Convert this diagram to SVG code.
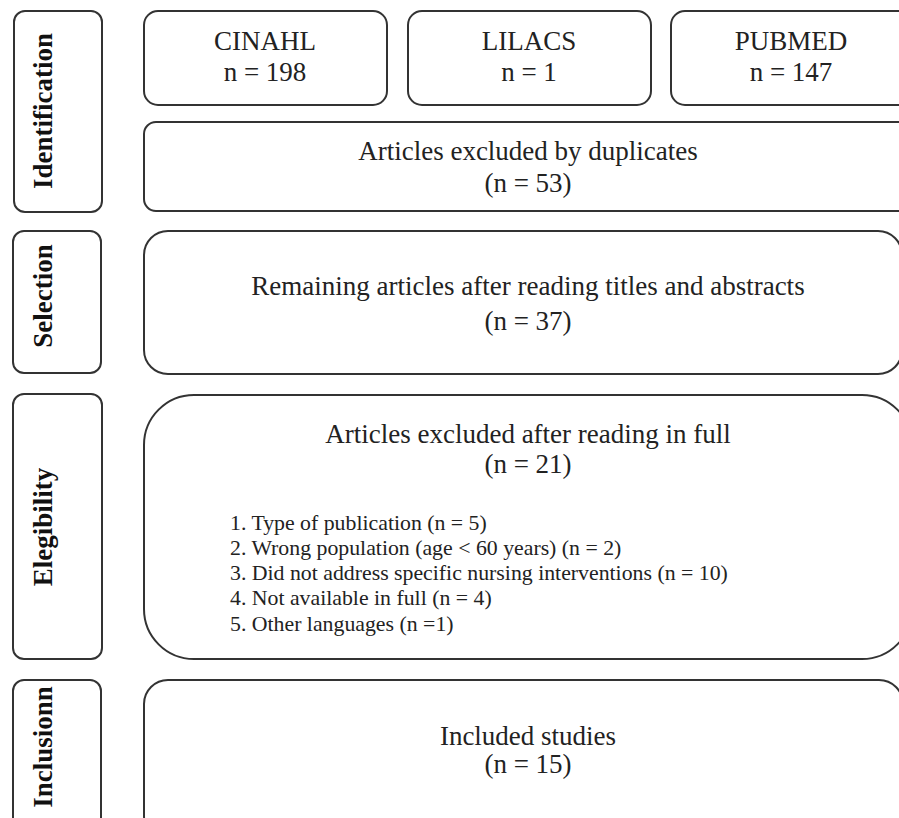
<svg xmlns="http://www.w3.org/2000/svg" width="899" height="818" viewBox="0 0 899 818">
<style>
  .box { fill: #ffffff; stroke: #333333; stroke-width: 2; }
  .t { font-family: "Liberation Serif", "Times New Roman", serif; fill: #222222; text-anchor: middle; }
  .big { font-size: 27px; }
  .list { font-family: "Liberation Serif", "Times New Roman", serif; fill: #222222; font-size: 21.8px; }
  .lab { font-family: "Liberation Serif", "Times New Roman", serif; font-weight: bold; font-size: 27px; fill: #111111; text-anchor: middle; }
</style>
<rect width="899" height="818" fill="#ffffff"/>

<g id="label-identification">
  <rect class="box" x="14" y="11" width="88" height="201" rx="11"/>
  <text class="lab" transform="translate(52,111) rotate(-90)">Identification</text>
</g>
<g id="label-selection">
  <rect class="box" x="13" y="231" width="88" height="142" rx="11"/>
  <text class="lab" transform="translate(52,296) rotate(-90)">Selection</text>
</g>
<g id="label-elegibility">
  <rect class="box" x="13" y="394" width="89" height="265" rx="11"/>
  <text class="lab" transform="translate(52,527) rotate(-90)">Elegibility</text>
</g>
<g id="label-inclusion">
  <rect class="box" x="13" y="680" width="88" height="160" rx="11"/>
  <text class="lab" transform="translate(52,747) rotate(-90)">Inclusionn</text>
</g>

<g id="cinahl">
  <rect class="box" x="144" y="11" width="243" height="94" rx="14"/>
  <text class="t big" x="265" y="50">CINAHL</text>
  <text class="t big" x="265" y="81">n = 198</text>
</g>
<g id="lilacs">
  <rect class="box" x="408" y="11" width="243" height="94" rx="14"/>
  <text class="t big" x="529" y="50">LILACS</text>
  <text class="t big" x="529" y="81">n = 1</text>
</g>
<g id="pubmed">
  <rect class="box" x="671" y="11" width="242" height="94" rx="14"/>
  <text class="t big" x="791" y="50">PUBMED</text>
  <text class="t big" x="791" y="81">n = 147</text>
</g>

<g id="duplicates">
  <rect class="box" x="144" y="122" width="790" height="89" rx="12"/>
  <text class="t big" x="528" y="160">Articles excluded by duplicates</text>
  <text class="t big" x="528" y="192">(n = 53)</text>
</g>

<g id="remaining">
  <rect class="box" x="144" y="231" width="758" height="143" rx="24"/>
  <text class="t big" x="528" y="295">Remaining articles after reading titles and abstracts</text>
  <text class="t big" x="528" y="330">(n = 37)</text>
</g>

<g id="excluded-full">
  <rect class="box" x="144" y="395" width="768" height="264" rx="50"/>
  <text class="t big" x="528" y="443">Articles excluded after reading in full</text>
  <text class="t big" x="528" y="473">(n = 21)</text>
  <text class="list" x="230" y="530">1. Type of publication (n = 5)</text>
  <text class="list" x="230" y="555">2. Wrong population (age &lt; 60 years) (n = 2)</text>
  <text class="list" x="230" y="580">3. Did not address specific nursing interventions (n = 10)</text>
  <text class="list" x="230" y="605">4. Not available in full (n = 4)</text>
  <text class="list" x="230" y="631">5. Other languages (n =1)</text>
</g>

<g id="included">
  <rect class="box" x="144" y="680" width="759" height="160" rx="24"/>
  <text class="t big" x="528" y="745">Included studies</text>
  <text class="t big" x="528" y="773">(n = 15)</text>
</g>

<g id="connectors"></g>
</svg>
